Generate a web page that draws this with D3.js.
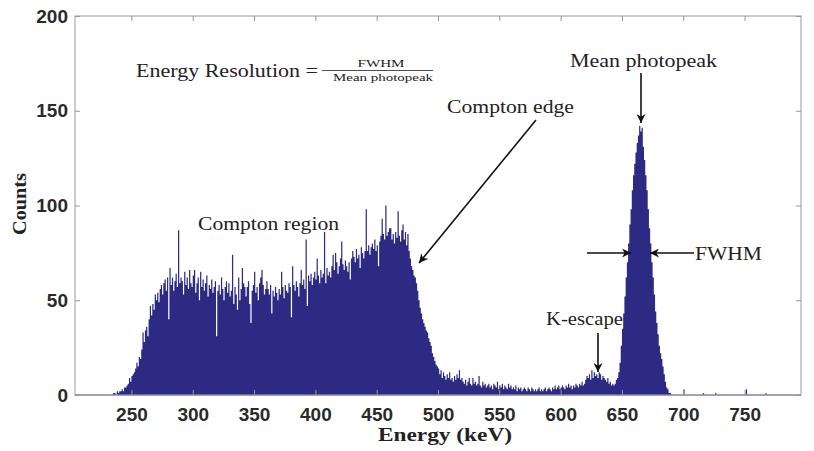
<!DOCTYPE html>
<html><head><meta charset="utf-8">
<script src="https://cdn.jsdelivr.net/npm/d3@7"></script>
<style>
html,body{margin:0;padding:0;background:#fff;}
svg{display:block;}
</style></head>
<body>
<svg id="chart" width="814" height="451"></svg>
<script>
// ---- data ----
const binStart = 235;            // keV of first 1-keV bin
const counts = [
  1,1,0,2,1,2,
  2,3,2,4,4,5,6,9,7,10,
  11,12,14,17,15,20,19,24,33,28,
  34,36,31,40,47,42,48,45,53,50,
  54,49,56,58,53,59,61,55,62,40,
  67,58,62,55,60,64,57,87,59,62,
  60,53,65,58,62,56,66,59,57,63,
  66,54,59,62,50,65,57,61,55,59,
  63,52,58,56,61,54,57,60,31,55,
  58,53,62,56,50,57,60,54,59,52,
  55,74,48,57,53,45,62,50,56,67,
  59,57,52,57,60,48,38,55,58,65,
  54,57,50,59,62,66,58,53,56,60,
  56,53,58,43,55,52,57,54,50,56,
  53,65,57,51,58,55,54,59,57,41,
  68,58,55,60,57,52,59,66,58,61,
  56,82,47,63,60,64,58,62,65,61,
  72,63,59,66,62,64,86,59,67,63,
  65,62,68,74,66,75,70,64,68,72,
  81,69,66,71,68,65,70,61,72,76,
  73,70,77,72,74,67,78,75,72,76,
  98,76,79,74,78,80,77,82,76,79,
  68,81,84,93,85,82,100,84,86,88,
  88,82,85,80,86,83,97,84,81,87,
  90,82,86,79,85,76,72,68,66,63,
  62,59,55,50,46,43,40,38,36,34,
  33,30,28,26,22,20,18,16,15,14,
  11,13,9,12,10,8,11,9,12,8,
  9,7,10,8,11,9,13,8,9,7,
  6,8,5,7,9,6,5,9,6,7,
  5,6,10,5,4,7,5,6,4,5,
  6,4,5,3,6,5,4,7,3,5,
  4,6,3,5,4,3,6,4,5,3,
  4,3,5,2,4,3,4,2,3,4,
  3,2,4,3,2,4,3,2,3,2,
  3,4,2,3,2,3,4,2,3,4,
  3,2,4,3,5,3,4,5,3,4,
  5,4,3,5,4,6,4,5,3,5,
  4,6,5,4,6,5,7,5,6,8,
  10,9,11,8,13,9,12,10,11,9,
  12,11,8,10,9,8,7,9,6,7,
  5,6,5,6,8,9,12,17,26,35,
  43,52,62,70,80,90,98,108,116,122,
  128,133,137,142,139,141,131,124,116,108,
  98,88,80,70,62,53,44,38,32,26,
  22,19,15,11,7,4,3,1,1
];
const sparseEnergy = [700, 716, 726, 751, 767];
const sparseCounts = [3, 1, 1, 3, 1];
const xTicks = [250, 300, 350, 400, 450, 500, 550, 600, 650, 700, 750];
const yTicks = [0, 50, 100, 150, 200];

// ---- layout ----
const svg = d3.select("#chart");
const L = 75, R = 801, T = 16, B = 395;
const x = d3.scaleLinear().domain([204, 796]).range([L, R]);
const y = d3.scaleLinear().domain([0, 200]).range([B, T]);
const FILL = "#2d2a84";
const TXT = "#222";

const bins = counts.map((c, i) => ({e: binStart + i, c}));
bins.push({e: binStart + counts.length, c: 0});
const area = d3.area()
  .x(d => x(d.e)).y0(y(0)).y1(d => y(d.c))
  .curve(d3.curveStepAfter);
svg.append("path").datum(bins).attr("d", area).attr("fill", FILL);

svg.selectAll("rect.sp").data(sparseEnergy.map((e, i) => ({e, c: sparseCounts[i]})))
  .enter().append("rect").attr("class", "sp")
  .attr("x", d => x(d.e)).attr("width", d => x(d.e + 1) - x(d.e))
  .attr("y", d => y(d.c)).attr("height", d => y(0) - y(d.c))
  .attr("fill", FILL);

// frame
svg.append("rect").attr("x", L).attr("y", T).attr("width", R - L).attr("height", B - T)
  .attr("fill", "none").attr("stroke", "#999").attr("stroke-width", 1);
svg.append("line").attr("x1", L).attr("x2", R).attr("y1", B).attr("y2", B)
  .attr("stroke", "#7a78b0").attr("stroke-width", 1.2);

// axes (inward ticks, MATLAB style)
const xAxis = d3.axisBottom(x).tickValues(xTicks).tickSize(-5).tickPadding(13).tickFormat(d3.format("d"));
svg.append("g").attr("transform", `translate(0,${B})`).call(xAxis);
const xTop = d3.axisTop(x).tickValues(xTicks).tickSize(-5).tickFormat("");
svg.append("g").attr("transform", `translate(0,${T})`).call(xTop);
const yAxis = d3.axisLeft(y).tickValues(yTicks).tickSize(-5).tickPadding(7).tickFormat(d3.format("d"));
svg.append("g").attr("transform", `translate(${L},0)`).call(yAxis);
const yRight = d3.axisRight(y).tickValues(yTicks).tickSize(-5).tickFormat("");
svg.append("g").attr("transform", `translate(${R},0)`).call(yRight);
svg.selectAll(".domain").remove();
svg.selectAll(".tick line").attr("stroke", "#999");
svg.selectAll(".tick text").attr("fill", "#2a2a2a")
  .style("font-family", "'Liberation Sans', Arial, sans-serif")
  .style("font-weight", "bold").style("font-size", "19px");

// axis titles
const serif = "'Liberation Serif', 'DejaVu Serif', serif";
function label(t, xx, yy, size, anchor, width, bold, transform) {
  const s = svg.append("text").attr("text-anchor", anchor || "start")
    .style("font-family", serif).style("font-size", size + "px").attr("fill", TXT).text(t);
  if (transform) s.attr("transform", transform); else s.attr("x", xx).attr("y", yy);
  if (bold) s.style("font-weight", "bold");
  if (width) s.attr("textLength", width).attr("lengthAdjust", "spacingAndGlyphs");
  return s;
}
label("Energy (keV)", 445, 441, 19, "middle", 134, true);
label("Counts", 0, 0, 19, "middle", 62, true, "translate(26,204) rotate(-90)");

// annotations
label("Energy Resolution =", 136, 77, 19, "start", 182);
label("FWHM", 381, 67, 11, "middle", 47);
svg.append("line").attr("x1", 322).attr("x2", 433).attr("y1", 70.5).attr("y2", 70.5)
  .attr("stroke", TXT).attr("stroke-width", 0.8);
label("Mean photopeak", 383, 81, 11, "middle", 100);
label("Mean photopeak", 643.5, 67, 18, "middle", 147);
label("Compton edge", 510.5, 113, 18, "middle", 127);
label("Compton region", 268.5, 230, 18, "middle", 141);
label("K-escape", 584.5, 325, 18, "middle", 77);
label("FWHM", 695, 260, 18, "start", 67);

svg.append("defs").append("marker").attr("id", "ah").attr("viewBox", "0 0 10 10")
  .attr("refX", 10).attr("refY", 5).attr("markerWidth", 10).attr("markerHeight", 9)
  .attr("markerUnits", "userSpaceOnUse").attr("orient", "auto")
  .append("path").attr("d", "M0,0L10,5L0,10L3,5Z").attr("fill", "#111");
function arrow(x1, y1, x2, y2) {
  svg.append("line").attr("x1", x1).attr("y1", y1).attr("x2", x2).attr("y2", y2)
    .attr("stroke", "#111").attr("stroke-width", 1.6).attr("marker-end", "url(#ah)");
}
arrow(641, 73, 641, 123);
arrow(536, 120, 419, 263);
arrow(598, 333, 598, 372);
arrow(587, 253, 631, 253);
arrow(694, 253, 650, 253);
</script>
</body></html>
